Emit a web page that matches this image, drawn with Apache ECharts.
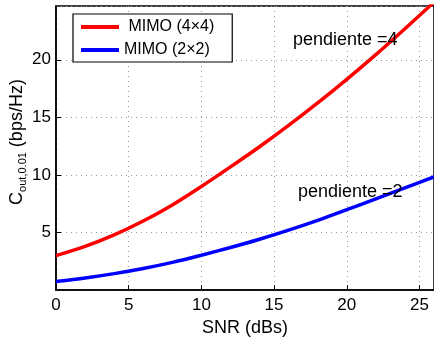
<!DOCTYPE html>
<html>
<head>
<meta charset="utf-8">
<script src="https://cdn.jsdelivr.net/npm/echarts@6/dist/echarts.min.js"></script>
<style>html,body{margin:0;padding:0;background:#fff;}#c{width:434px;height:342px;}</style>
</head>
<body>
<div id="c"></div>
<script>
const snr = [0, 2, 4, 6, 8, 10, 12, 14, 16, 18, 20, 22, 24, 26];
const mimo44 = [3.0, 3.8, 4.8, 6.0, 7.4, 9.0, 10.7, 12.45, 14.3, 16.25, 18.3, 20.45, 22.7, 25.0];
const mimo22 = [0.75, 1.05, 1.43, 1.88, 2.41, 3.03, 3.7, 4.42, 5.21, 6.06, 6.98, 7.92, 8.87, 9.84];
const seriesNames = [' MIMO (4\u00d74)', 'MIMO (2\u00d72)'];
const xTicks = [0, 5, 10, 15, 20, 25];
const yTicks = [5, 10, 15, 20];

const FONT = 'Liberation Sans, Arial, Helvetica, sans-serif';
const chart = echarts.init(document.getElementById('c'), null, {renderer: 'canvas'});
const toPairs = (xs, ys) => xs.map((x, i) => [x, ys[i]]);

chart.setOption({
  animation: false,
  backgroundColor: '#fff',
  grid: {left: 56, top: 6, width: 380, height: 296, show: true, borderColor: '#000', borderWidth: 1.5, backgroundColor: 'transparent'},
  xAxis: {
    type: 'value', min: 0, max: 26, interval: 5,
    name: 'SNR (dBs)', nameLocation: 'middle', nameGap: 20,
    nameTextStyle: {fontFamily: FONT, fontSize: 18, color: '#000'},
    axisLine: {show: true, lineStyle: {color: '#000', width: 1.5}},
    axisTick: {show: true, inside: true, length: 5, lineStyle: {color: '#000'}},
    axisLabel: {fontFamily: FONT, fontSize: 17, color: '#000', margin: 7, showMaxLabel: false,
      formatter: v => xTicks.includes(v) ? String(v) : ''},
    splitLine: {show: true, lineStyle: {color: '#999', width: 1, type: [1, 4]}}
  },
  yAxis: {
    type: 'value', min: 0, max: 24.67, interval: 5,
    axisLine: {show: true, lineStyle: {color: '#000', width: 1.5}},
    axisTick: {show: true, inside: true, length: 5, lineStyle: {color: '#000'}},
    axisLabel: {fontFamily: FONT, fontSize: 17, color: '#000', margin: 5, showMinLabel: false, showMaxLabel: false,
      formatter: v => yTicks.includes(v) ? String(v) : ''},
    splitLine: {show: true, lineStyle: {color: '#999', width: 1, type: [1, 4]}}
  },
  legend: {
    orient: 'vertical', left: 73, top: 14,
    padding: [4, 18, 3, 8], itemGap: 5,
    backgroundColor: '#fff', borderColor: '#000', borderWidth: 1.2, borderRadius: 0,
    icon: 'rect', itemWidth: 38, itemHeight: 4,
    textStyle: {fontFamily: FONT, fontSize: 16, color: '#000', lineHeight: 18},
    data: seriesNames
  },
  series: [
    {name: seriesNames[0], type: 'line', data: toPairs(snr, mimo44), smooth: 0.3, showSymbol: false, symbol: 'none',
      lineStyle: {color: '#ff0000', width: 3.5}, itemStyle: {color: '#ff0000'}, clip: true, z: 3},
    {name: seriesNames[1], type: 'line', data: toPairs(snr, mimo22), smooth: 0.3, showSymbol: false, symbol: 'none',
      lineStyle: {color: '#0000ff', width: 3.5}, itemStyle: {color: '#0000ff'}, clip: true, z: 3}
  ],
  graphic: [
    {type: 'text', x: 17, y: 142, rotation: Math.PI / 2, z: 10,
      style: {text: '{c|C}{s|out,0.01}{n| (bps/Hz)}', align: 'center', verticalAlign: 'middle',
        rich: {
          c: {fontFamily: FONT, fontSize: 18, lineHeight: 22, verticalAlign: 'middle', fill: '#000'},
          s: {fontFamily: FONT, fontSize: 11, lineHeight: 11, verticalAlign: 'bottom', fill: '#000'},
          n: {fontFamily: FONT, fontSize: 18, lineHeight: 22, verticalAlign: 'middle', fill: '#000'}
        }}},
    {type: 'text', left: 293, top: 31, z: 10,
      style: {text: 'pendiente =4', fontFamily: FONT, fontSize: 18, fill: '#000'}},
    {type: 'text', left: 298, top: 183, z: 10,
      style: {text: 'pendiente =2', fontFamily: FONT, fontSize: 18, fill: '#000'}}
  ]
});
</script>
</body>
</html>
